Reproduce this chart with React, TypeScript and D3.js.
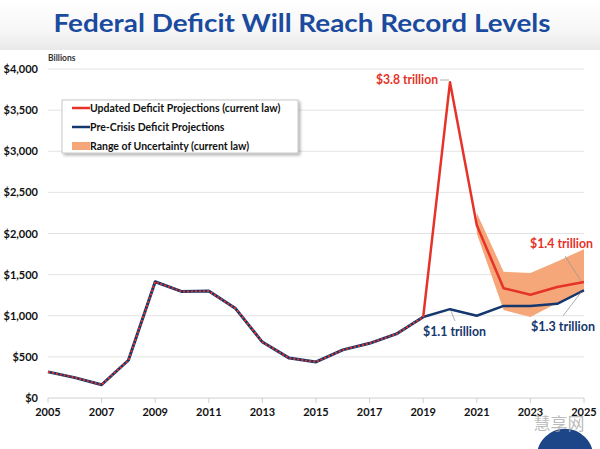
import React from "react";
import * as d3 from "d3";

const histYears = [2005, 2006, 2007, 2008, 2009, 2010, 2011, 2012, 2013, 2014, 2015, 2016, 2017, 2018, 2019];
const histValues = [318, 248, 161, 459, 1413, 1294, 1300, 1087, 680, 485, 438, 585, 665, 779, 984];

const projYears = [2019, 2020, 2021, 2022, 2023, 2024, 2025];
const updatedValues = [984, 3840, 2100, 1335, 1255, 1350, 1410];
const preCrisisValues = [984, 1080, 1000, 1120, 1120, 1145, 1310];

const bandYears = [2021, 2022, 2023, 2024, 2025];
const bandLow = [2000, 1070, 985, 1155, 1290];
const bandHigh = [2250, 1535, 1520, 1660, 1810];

const yTicks = [0, 500, 1000, 1500, 2000, 2500, 3000, 3500, 4000];
const xTicks = [2005, 2007, 2009, 2011, 2013, 2015, 2017, 2019, 2021, 2023, 2025];

const legendItems = [
  { label: "Updated Deficit Projections (current law)", kind: "red" },
  { label: "Pre-Crisis Deficit Projections", kind: "navy" },
  { label: "Range of Uncertainty (current law)", kind: "band" },
];

const RED = "#e63329";
const NAVY = "#14386e";
const BAND = "#f5a779";
const FONT = "Lato, 'Open Sans', sans-serif";

export default function App() {
  const W = 600, H = 449;
  const x = d3.scaleLinear().domain([2005, 2025]).range([48, 584]);
  const y = d3.scaleLinear().domain([0, 4000]).range([398, 69]);
  const line = d3.line<[number, number]>().x(d => x(d[0])).y(d => y(d[1]));
  const hist = histYears.map((yr, i) => [yr, histValues[i]] as [number, number]);
  const upd = projYears.map((yr, i) => [yr, updatedValues[i]] as [number, number]);
  const pre = projYears.map((yr, i) => [yr, preCrisisValues[i]] as [number, number]);
  const area = d3.area<number>()
    .x((_, i) => x(bandYears[i]))
    .y0((_, i) => y(bandLow[i]))
    .y1((_, i) => y(bandHigh[i]));
  const fmt = (v: number) => "$" + d3.format(",")(v);

  const endX = x(2025);

  return (
    <svg width={W} height={H} style={{ position: "absolute", left: 0, top: 0, background: "#fff" }} fontFamily={FONT}>
      <defs>
        <linearGradient id="tg" x1="0" y1="0" x2="0" y2="1">
          <stop offset="0" stopColor="#ffffff" />
          <stop offset="0.6" stopColor="#f7f7f7" />
          <stop offset="1" stopColor="#e9e9e9" />
        </linearGradient>
        <filter id="sh" x="-10%" y="-10%" width="130%" height="140%">
          <feDropShadow dx="2" dy="2" stdDeviation="1.5" floodColor="#000" floodOpacity="0.3" />
        </filter>
      </defs>
      <rect x={0} y={0} width={W} height={50} fill="url(#tg)" />
      <text x={302} y={32} textAnchor="middle" fontSize={25} fontWeight="bold" fill="#1a4b9e"
        textLength={497} lengthAdjust="spacingAndGlyphs">Federal Deficit Will Reach Record Levels</text>

      <text x={48} y={61} fontSize={8.5} fontWeight="bold" fill="#333">Billions</text>

      {yTicks.map(t => (
        <g key={t}>
          <line x1={48} x2={584} y1={y(t)} y2={y(t)} stroke={t === 0 ? "#d0d0d0" : "#e3e3e3"} strokeWidth={1} />
          <text x={38} y={y(t) + 4} textAnchor="end" fontSize={11} fontWeight="bold" fill="#111">{fmt(t)}</text>
        </g>
      ))}
      {xTicks.map(t => (
        <g key={t}>
          <line x1={x(t)} x2={x(t)} y1={398} y2={403} stroke="#d0d0d0" />
          <text x={x(t)} y={416} textAnchor="middle" fontSize={11} fontWeight="bold" fill="#111">{t}</text>
        </g>
      ))}

      <path d={area(bandYears) || ""} fill={BAND} />

      <path d={line(hist) || ""} fill="none" stroke={NAVY} strokeWidth={3} strokeLinejoin="round" />
      <path d={line(hist) || ""} fill="none" stroke={RED} strokeWidth={2} strokeDasharray="2,2" strokeLinejoin="round" />

      <path d={line(pre) || ""} fill="none" stroke={NAVY} strokeWidth={2.5} strokeLinejoin="round" />
      <path d={line(upd) || ""} fill="none" stroke={RED} strokeWidth={2.5} strokeLinejoin="round" />

      {/* annotations */}
      <line x1={440} x2={449} y1={80} y2={80} stroke="#999" strokeWidth={0.8} />
      <text x={376} y={84} fontSize={13} fontWeight="bold" fill={RED} textLength={62} lengthAdjust="spacingAndGlyphs">$3.8 trillion</text>

      <line x1={565} y1={256} x2={endX - 3} y2={y(updatedValues[6]) - 1} stroke="#999" strokeWidth={0.8} />
      <text x={530} y={248} fontSize={13} fontWeight="bold" fill={RED} textLength={63} lengthAdjust="spacingAndGlyphs">$1.4 trillion</text>

      <line x1={451} y1={y(preCrisisValues[1]) + 2} x2={455} y2={321} stroke="#999" strokeWidth={0.8} />
      <text x={423} y={336} fontSize={13} fontWeight="bold" fill={NAVY} textLength={63} lengthAdjust="spacingAndGlyphs">$1.1 trillion</text>

      <line x1={563} y1={316} x2={endX - 3} y2={y(preCrisisValues[6]) + 2} stroke="#999" strokeWidth={0.8} />
      <text x={531} y={331} fontSize={13} fontWeight="bold" fill={NAVY} textLength={64} lengthAdjust="spacingAndGlyphs">$1.3 trillion</text>

      {/* legend */}
      <rect x={62} y={100} width={236} height={53} fill="#fff" stroke="#bbb" strokeWidth={0.8} filter="url(#sh)" />
      {legendItems.map((it, i) => {
        const cy = 108 + i * 19;
        return (
          <g key={it.label}>
            {it.kind === "band" ? (
              <rect x={72} y={cy - 4} width={18} height={8} fill={BAND} />
            ) : (
              <line x1={72} x2={90} y1={cy} y2={cy} stroke={it.kind === "red" ? RED : NAVY} strokeWidth={2.5} />
            )}
            <text x={90} y={cy + 4} fontSize={10.5} fontWeight="bold" fill="#111">{it.label}</text>
          </g>
        );
      })}

      {/* watermark */}
      <circle cx={565} cy={457} r={29} fill="#1d4688" stroke="#fff" strokeWidth={1.5} />
      <text x={559} y={430} textAnchor="middle" fontSize={17} fill="#aaa" fillOpacity={0.8}
        fontFamily="'Noto Sans CJK SC', sans-serif">慧享网</text>
    </svg>
  );
}
